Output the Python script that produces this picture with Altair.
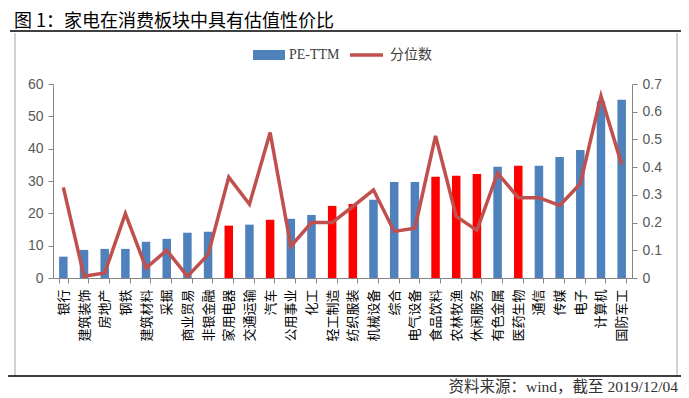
import altair as alt
import pandas as pd

categories = ["银行", "建筑装饰", "房地产", "钢铁", "建筑材料", "采掘", "商业贸易", "非银金融",
              "家用电器", "交通运输", "汽车", "公用事业", "化工", "轻工制造", "纺织服装", "机械设备",
              "综合", "电气设备", "食品饮料", "农林牧渔", "休闲服务", "有色金属", "医药生物", "通信",
              "传媒", "电子", "计算机", "国防军工"]
pe_ttm = [6.6, 8.7, 9.0, 9.0, 11.2, 12.1, 14.0, 14.3,
          16.2, 16.5, 18.0, 18.3, 19.5, 22.3, 22.9, 24.2,
          29.7, 29.7, 31.3, 31.6, 32.2, 34.4, 34.7, 34.7,
          37.4, 39.6, 54.6, 55.1]
quantile = [0.327, 0.006, 0.018, 0.232, 0.036, 0.100, 0.006, 0.084,
            0.364, 0.266, 0.525, 0.114, 0.200, 0.200, 0.258, 0.318,
            0.168, 0.180, 0.513, 0.222, 0.172, 0.378, 0.290, 0.290,
            0.262, 0.340, 0.657, 0.410]
consumer = ["家用电器", "汽车", "轻工制造", "纺织服装", "食品饮料", "农林牧渔", "休闲服务", "医药生物"]

title_text = "图 1：家电在消费板块中具有估值性价比"
source_text = "资料来源：wind，截至 2019/12/04"
legend_labels = ["PE-TTM", "分位数"]
left_ticks = [0, 10, 20, 30, 40, 50, 60]
right_ticks = [0, 0.1, 0.2, 0.3, 0.4, 0.5, 0.6, 0.7]

df = pd.DataFrame({"cat": categories, "pe": pe_ttm, "q": quantile})
df["hl"] = df["cat"].isin(consumer)

CJK = "Noto Sans CJK SC"
AX = "#868686"

xenc = alt.X(
    "cat:N", sort=categories,
    scale=alt.Scale(paddingInner=0.58, paddingOuter=0.29),
    axis=alt.Axis(title=None, labelAngle=-90, labelAlign="right", labelBaseline="middle",
                  labelFont=CJK, labelFontSize=13, labelColor="#000000",
                  labelOverlap=False, labelBound=False, labelPadding=6,
                  tickBand="extent", tickSize=5, tickColor=AX, domainColor=AX),
)

bars = alt.Chart(df).mark_bar(size=8.5).encode(
    x=xenc,
    y=alt.Y("pe:Q", scale=alt.Scale(domain=[0, 60], nice=False),
            axis=alt.Axis(orient="left", title=None, values=left_ticks, grid=False,
                          labelFont="Liberation Sans", labelFontSize=14, labelColor="#595959",
                          tickSize=5, tickColor=AX, domainColor=AX, labelPadding=5)),
    color=alt.condition(alt.datum.hl, alt.value("#FF0000"), alt.value("#4F81BD")),
)

line = alt.Chart(df).mark_line(color="#C0504D", strokeWidth=3.5).encode(
    x=xenc,
    y=alt.Y("q:Q", scale=alt.Scale(domain=[0, 0.7], nice=False),
            axis=alt.Axis(orient="right", title=None, values=right_ticks, grid=False,
                          labelExpr="datum.value == 0 ? '0' : format(datum.value, '.1f')",
                          labelFont="Liberation Sans", labelFontSize=14, labelColor="#595959",
                          tickSize=5, tickColor=AX, domainColor=AX, labelPadding=5)),
)

one = alt.Data(values=[{"a": 1}])

def rule(x, x2, y, y2, color, width=1, dash=None):
    kw = dict(color=color, strokeWidth=width)
    if dash:
        kw["strokeDash"] = dash
    return alt.Chart(one).mark_rule(**kw).encode(
        x=alt.value(x), x2=alt.value(x2), y=alt.value(y), y2=alt.value(y2))

def text(t, x, y, font, size, color="#000000", align="left", weight="normal", baseline="middle"):
    return alt.Chart(one).mark_text(text=t, font=font, fontSize=size, color=color, align=align,
                                    baseline=baseline, fontWeight=weight).encode(
        x=alt.value(x), y=alt.value(y))

deco = [
    text(title_text, -39, -57, CJK, 18, baseline="alphabetic"),
    rule(-43, 632, -53, -53, "#000000", 1.5),
    rule(-38, -38, -51, 292, "#A6A6A6", 1),
    rule(624, 624, -51, 292, "#A6A6A6", 1),
    rule(-50, -50, -70, 310, "#CCCCCC", 1, [3, 2]),
    rule(633, 633, -70, 310, "#CCCCCC", 1, [3, 2]),
    rule(-50, 633, 292, 292, "#000000", 1.5),
    text(source_text, 625, 303, "Liberation Serif, " + CJK, 15.5, color="#333333", align="right"),
    alt.Chart(one).mark_rect(color="#4F81BD").encode(
        x=alt.value(200), x2=alt.value(232), y=alt.value(-34), y2=alt.value(-24)),
    text(legend_labels[0], 236, -29, "Liberation Serif", 14, color="#404040"),
    rule(297, 330, -29, -29, "#C0504D", 3.5),
    text(legend_labels[1], 337, -29, CJK, 14, color="#404040"),
]

chart = alt.layer(bars, line, *deco).resolve_scale(y="independent").properties(
    width=579, height=194,
    autosize=alt.AutoSizeParams(type="none"),
    padding={"left": 45, "top": 76, "right": 49, "bottom": 120},
).configure_view(stroke=None)

chart.save("out.html", embed_options={"renderer": "svg", "actions": False})
